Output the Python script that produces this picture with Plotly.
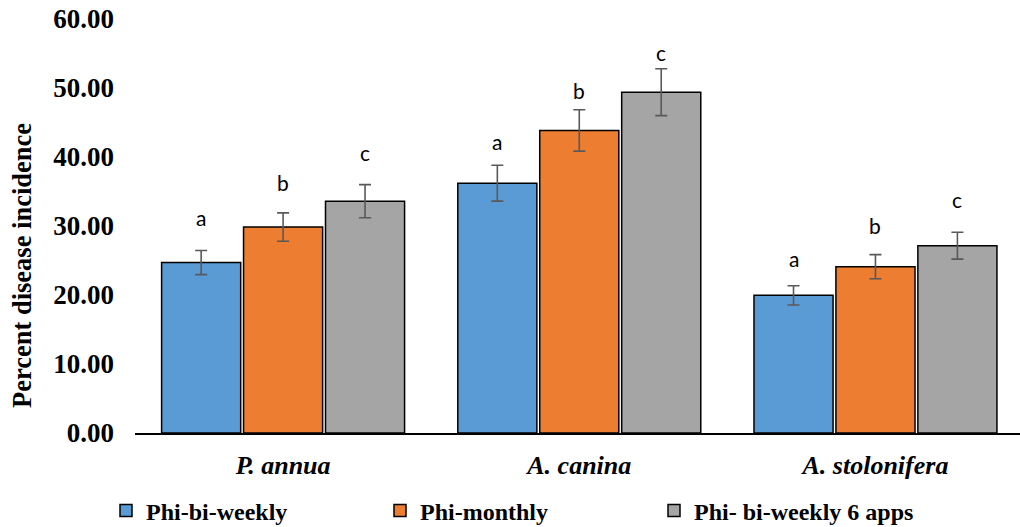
import plotly.graph_objects as go

categories = ["P. annua", "A. canina", "A. stolonifera"]
series_names = ["Phi-bi-weekly", "Phi-monthly", "Phi- bi-weekly 6 apps"]
phi_biweekly = [24.7, 36.2, 19.95]
phi_monthly = [29.85, 43.85, 24.1]
phi_biweekly6 = [33.6, 49.4, 27.15]
err_biweekly = [1.75, 2.6, 1.4]
err_monthly = [2.05, 3.0, 1.75]
err_biweekly6 = [2.4, 3.4, 1.95]
letters_biweekly = ["a", "a", "a"]
letters_monthly = ["b", "b", "b"]
letters_biweekly6 = ["c", "c", "c"]
letter_y_biweekly = [29.8, 40.8, 23.9]
letter_y_monthly = [35.0, 48.3, 28.7]
letter_y_biweekly6 = [39.3, 53.7, 32.5]

colors = ["#5B9BD5", "#ED7D31", "#A5A5A5"]
values = [phi_biweekly, phi_monthly, phi_biweekly6]
errors = [err_biweekly, err_monthly, err_biweekly6]
letters = [letters_biweekly, letters_monthly, letters_biweekly6]
letter_ys = [letter_y_biweekly, letter_y_monthly, letter_y_biweekly6]

xpos = list(range(len(categories)))
bargap = 0.17
slot = (1 - bargap) / 3

fig = go.Figure()
for j in range(3):
    fig.add_trace(go.Bar(
        x=xpos, y=values[j], name=series_names[j],
        marker=dict(color=colors[j], line=dict(color="black", width=1.5)),
        error_y=dict(type="data", array=errors[j], color="#595959", thickness=1.6, width=6),
    ))
    for i in xpos:
        fig.add_annotation(
            x=i + (j - 1) * slot, y=letter_ys[j][i], xref="x", yref="y",
            text=letters[j][i], showarrow=False, yanchor="bottom", yshift=-5,
            font=dict(family="Lato", size=21, color="black"),
        )

serif = "Liberation Serif"
fig.add_annotation(
    xref="paper", yref="paper", x=(22 - 135) / 885, y=(433 - 266) / 414,
    text="<b>Percent disease incidence</b>", textangle=-90, showarrow=False,
    xanchor="center", yanchor="middle",
    font=dict(family=serif, size=26.5, color="black"),
)

fig.update_layout(
    width=1020, height=527,
    margin=dict(l=135, r=0, t=19, b=94, autoexpand=False),
    paper_bgcolor="white", plot_bgcolor="white",
    barmode="group", bargap=bargap, bargroupgap=0.035,
    showlegend=True,
    legend=dict(
        orientation="h", xref="paper", yref="paper",
        x=(106 - 135) / 885, y=(433 - 511) / 414, xanchor="left", yanchor="middle",
        font=dict(family=serif, size=24, color="black", weight="bold"),
        entrywidth=229, entrywidthmode="pixels", traceorder="normal",
    ),
    xaxis=dict(
        range=[-0.5, 2.488], tickvals=xpos,
        ticktext=["<b><i>%s</i></b>" % c for c in categories],
        showline=True, linecolor="black", linewidth=2, ticks="",
        showgrid=False, zeroline=False, ticklabelstandoff=8, automargin=False,
        tickfont=dict(family=serif, size=26, color="black"),
    ),
    yaxis=dict(
        range=[0, 60], dtick=10, tickformat=".2f",
        showline=False, showgrid=False, zeroline=False, ticks="",
        ticklabelstandoff=20, automargin=False,
        tickfont=dict(family=serif, size=27, color="black", weight="bold"),
    ),
)

fig.write_html(
    "out.html",
    config={"displayModeBar": False},
    post_script="document.body.style.margin='0';document.body.style.padding='0';document.body.style.overflow='hidden';",
)
